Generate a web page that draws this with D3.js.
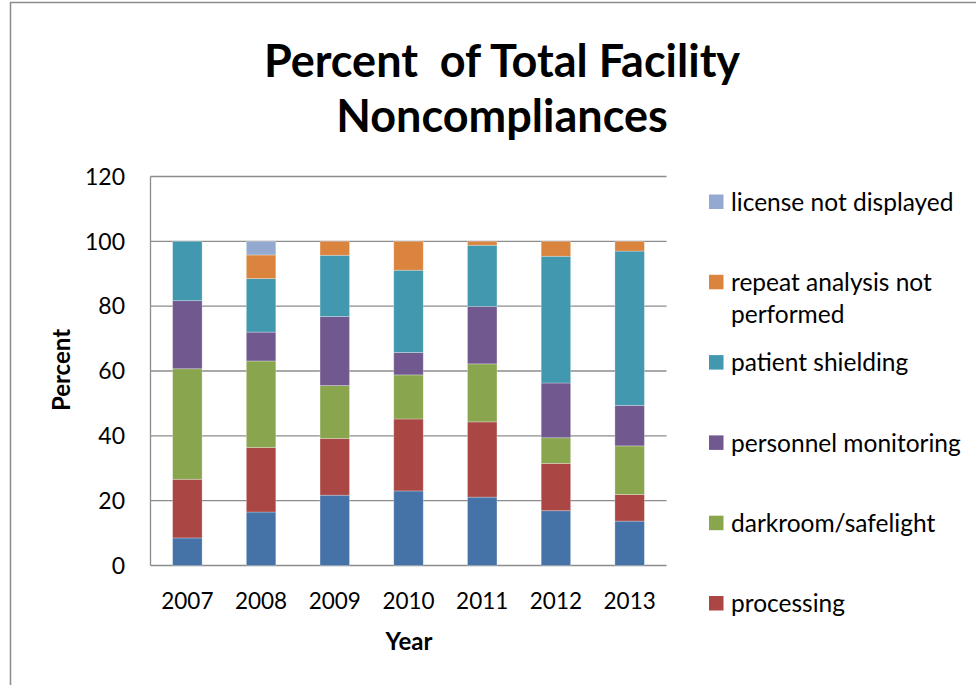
<!DOCTYPE html>
<html>
<head>
<meta charset="utf-8">
<script src="https://cdn.jsdelivr.net/npm/d3@7"></script>
<style>
  body { margin: 0; background: #fff; }
  svg { display: block; font-family: Lato, "Open Sans", sans-serif; }
</style>
</head>
<body>
<div id="chart"></div>
<script>
// years on the x axis
const years = ["2007", "2008", "2009", "2010", "2011", "2012", "2013"];

// stacked series, bottom to top
const seriesNames = [
  "other",
  "processing",
  "darkroom/safelight",
  "personnel monitoring",
  "patient shielding",
  "repeat analysis not performed",
  "license not displayed"
];
const other       = [8.5, 16.5, 21.7, 23.0, 21.1, 16.9, 13.7];
const processing  = [18.1, 19.9, 17.5, 22.2, 23.2, 14.6, 8.2];
const darkroom    = [34.1, 26.7, 16.3, 13.6, 17.9, 7.9, 15.0];
const personnel   = [21.0, 8.9, 21.3, 6.9, 17.7, 16.9, 12.5];
const shielding   = [18.3, 16.5, 18.9, 25.4, 18.9, 39.1, 47.6];
const repeatNot   = [0, 7.3, 4.3, 8.9, 1.2, 4.6, 3.0];
const licenseNot  = [0, 4.2, 0, 0, 0, 0, 0];

const colors = ["#4572A7", "#AA4643", "#89A54E", "#71588F", "#4198AF", "#DB843D", "#93A9CF"];
const yTicks = [0, 20, 40, 60, 80, 100, 120];

// legend shows top series first; the bottom one falls off the visible area
const legendItems = [
  { name: ["license not displayed"], color: colors[6] },
  { name: ["repeat analysis not", "performed"], color: colors[5] },
  { name: ["patient shielding"], color: colors[4] },
  { name: ["personnel monitoring"], color: colors[3] },
  { name: ["darkroom/safelight"], color: colors[2] },
  { name: ["processing"], color: colors[1] }
];

const W = 976, H = 685;
const plot = { left: 150.5, right: 666.5, top: 176.5, bottom: 565.5 };

const rows = years.map((yr, i) => ({
  year: yr,
  s0: other[i], s1: processing[i], s2: darkroom[i], s3: personnel[i],
  s4: shielding[i], s5: repeatNot[i], s6: licenseNot[i]
}));
const keys = ["s0", "s1", "s2", "s3", "s4", "s5", "s6"];
const stacked = d3.stack().keys(keys)(rows);

const svg = d3.select("#chart").append("svg")
  .attr("width", W).attr("height", H);

// outer chart frame (only top and left edges visible)
svg.append("rect")
  .attr("x", 10.5).attr("y", 2.5)
  .attr("width", W + 20).attr("height", H + 20)
  .attr("fill", "none").attr("stroke", "#8c8c8c").attr("stroke-width", 1.5);

const x = d3.scaleBand().domain(years)
  .range([plot.left, plot.right]).paddingInner(0.6).paddingOuter(0.3);
const y = d3.scaleLinear().domain([0, 120]).range([plot.bottom, plot.top]);

// gridlines
svg.append("g").selectAll("line").data(yTicks).join("line")
  .attr("x1", plot.left).attr("x2", plot.right)
  .attr("y1", d => y(d)).attr("y2", d => y(d))
  .attr("stroke", "#8c8c8c").attr("stroke-width", 1.3);

// y axis line
svg.append("line")
  .attr("x1", plot.left).attr("x2", plot.left)
  .attr("y1", plot.top).attr("y2", plot.bottom)
  .attr("stroke", "#8c8c8c").attr("stroke-width", 1.3);

// bars
svg.append("g").selectAll("g").data(stacked).join("g")
  .attr("fill", (d, i) => colors[i])
  .selectAll("rect").data(d => d).join("rect")
  .attr("x", d => x(d.data.year))
  .attr("width", x.bandwidth())
  .attr("y", d => y(d[1]))
  .attr("height", d => Math.max(0, y(d[0]) - y(d[1])))
  .attr("stroke", "rgba(255,255,255,0.35)").attr("stroke-width", 0.8);

// y tick labels
svg.append("g").selectAll("text").data(yTicks).join("text")
  .attr("x", 125).attr("y", d => y(d))
  .attr("dy", "0.36em").attr("text-anchor", "end")
  .attr("font-size", 23).attr("fill", "#000")
  .text(d => d);

// x tick labels
svg.append("g").selectAll("text").data(years).join("text")
  .attr("x", d => x(d) + x.bandwidth() / 2).attr("y", 601)
  .attr("dy", "0.36em").attr("text-anchor", "middle")
  .attr("font-size", 22.5).attr("fill", "#000")
  .text(d => d);

// axis titles
svg.append("text")
  .attr("x", 409).attr("y", 641).attr("dy", "0.36em")
  .attr("text-anchor", "middle").attr("font-size", 24).attr("font-weight", "bold")
  .text("Year");
svg.append("text")
  .attr("transform", "translate(61,370) rotate(-90)")
  .attr("dy", "0.36em")
  .attr("text-anchor", "middle").attr("font-size", 24).attr("font-weight", "bold")
  .text("Percent");

// title
const title = svg.append("text").attr("text-anchor", "middle")
  .attr("font-size", 45).attr("font-weight", "bold");
title.append("tspan").attr("x", 502).attr("y", 77).text("Percent  of Total Facility").style("white-space", "pre");
title.append("tspan").attr("x", 502).attr("y", 132).text("Noncompliances");

// legend
const lg = svg.append("g");
legendItems.forEach((item, i) => {
  const cy = 202 + 80.3 * i;
  lg.append("rect")
    .attr("x", 709).attr("y", cy - 7.5).attr("width", 14.5).attr("height", 14.5)
    .attr("fill", item.color);
  item.name.forEach((line, j) => {
    lg.append("text")
      .attr("x", 731).attr("y", cy + 32 * j).attr("dy", "0.36em")
      .attr("font-size", 24.5).attr("fill", "#000")
      .text(line);
  });
});
</script>
</body>
</html>
